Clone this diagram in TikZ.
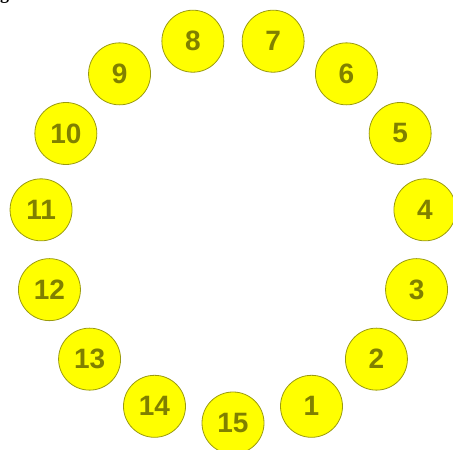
\documentclass[tikz,border=0pt]{standalone}
\usepackage{fontspec}
\newfontfamily\numfont{Liberation Sans}
\newfontfamily\headfont{Liberation Serif}
\definecolor{discfill}{HTML}{FFFF00}
\definecolor{discedge}{HTML}{9A9A10}
\definecolor{disctext}{HTML}{808000}
\tikzset{
  disc/.style={circle, minimum size=62pt, inner sep=0pt, fill=discfill,
    draw=discedge, line width=0.8pt, text=disctext,
    font=\numfont\bfseries\fontsize{28}{28}\selectfont}
}
\begin{document}
\begin{tikzpicture}[x=1pt,y=1pt]
  \useasboundingbox (0,0) rectangle (453,450);

  % cut-off heading at the top left
  \node[anchor=base west, inner sep=0pt, font=\headfont\bfseries\fontsize{18}{18}\selectfont] (head) at (0,450) {g};

  % ring of numbered discs, 15 at the bottom, counting anticlockwise
  \begin{scope}[shift={(233,220)}]
    \foreach \k in {1,...,15} {
      \pgfmathsetmacro{\ang}{-90+24*\k}
      \node[disc] (n\k) at (\ang:193) {\k};
    }
  \end{scope}
\end{tikzpicture}
\end{document}
